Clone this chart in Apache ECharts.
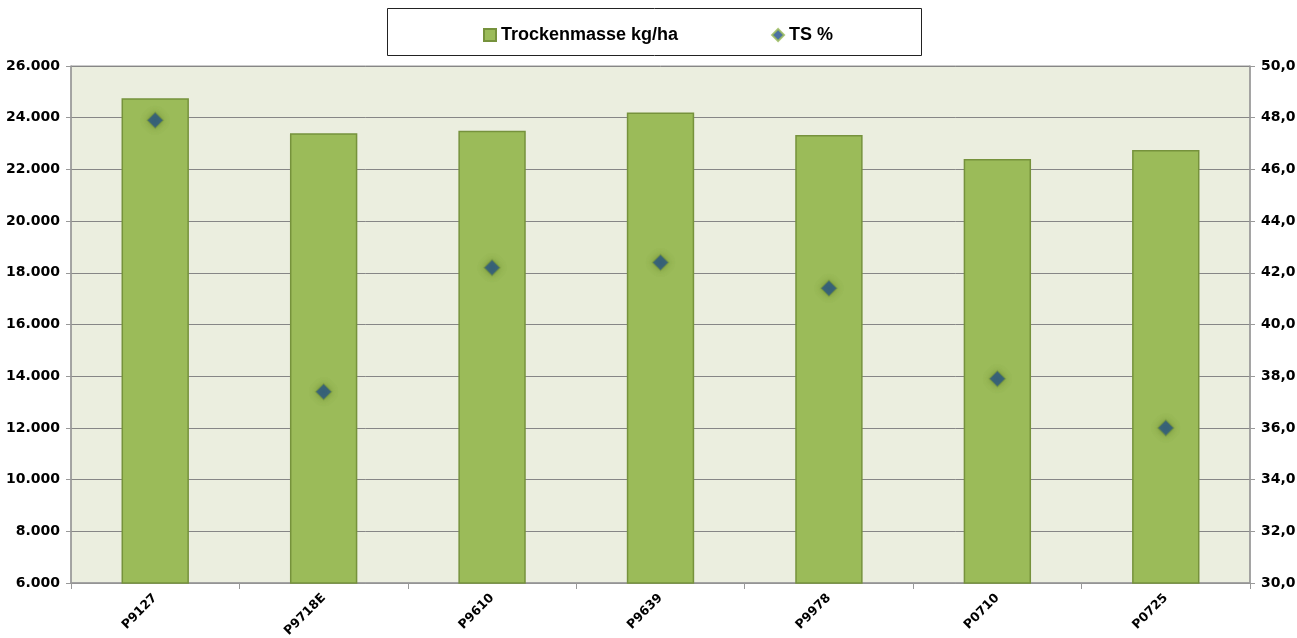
<!DOCTYPE html>
<html><head><meta charset="utf-8">
<script src="https://cdn.jsdelivr.net/npm/echarts@6/dist/echarts.min.js"></script>
<style>html,body{margin:0;padding:0;background:#fff}#c{width:1297px;height:638px}</style>
</head><body><div id="c"></div>
<script>
const categories = ['P9127','P9718E','P9610','P9639','P9978','P0710','P0725'];
const trockenmasse = [24750, 23400, 23500, 24200, 23330, 22400, 22750];
const tsPercent = [47.9, 37.4, 42.2, 42.4, 41.4, 37.9, 36.0];
const leftTicks = {min: 6000, max: 26000, interval: 2000};
const rightTicks = {min: 30, max: 50, interval: 2};

const fmtThousands = v => String(Math.round(v)).replace(/\B(?=(\d{3})+(?!\d))/g, '.');
const fmtDec = v => v.toFixed(1).replace('.', ',');
const font = 'Liberation Sans, Arial, sans-serif';
const axFont = 'DejaVu Sans, sans-serif';

const chart = echarts.init(document.getElementById('c'));
chart.setOption({
  animation: false,
  textStyle: {fontFamily: font},
  graphic: [{type: 'rect', left: 387, top: 8, shape: {width: 534, height: 47},
    style: {fill: '#fff', stroke: '#222', lineWidth: 1}, z: 0}],
  legend: {
    left: 478, top: 21, itemGap: 93, itemWidth: 12, itemHeight: 12,
    textStyle: {fontFamily: font, fontWeight: 'bold', fontSize: 18, color: '#000'},
    data: [
      {name: 'Trockenmasse kg/ha', icon: 'rect'},
      {name: 'TS %', icon: 'diamond', itemStyle: {color: '#1F4E8C', borderColor: '#9BBB59', borderWidth: 2}}
    ]
  },
  grid: {left: 71, right: 47, top: 66, bottom: 55, containLabel: false, outerBoundsMode: 'none',
    show: true, backgroundColor: '#EBEEDF', borderColor: '#999', borderWidth: 1},
  xAxis: {
    type: 'category', data: categories,
    axisLine: {lineStyle: {color: '#999', width: 1.5}},
    axisTick: {show: true, length: 6, lineStyle: {color: '#999'}},
    axisLabel: {rotate: 45, fontFamily: axFont, fontWeight: 'bold', fontSize: 12.5, color: '#000', margin: 13}
  },
  yAxis: [{
    type: 'value', min: leftTicks.min, max: leftTicks.max, interval: leftTicks.interval, position: 'left',
    axisLine: {show: true, lineStyle: {color: '#999', width: 1.5}},
    axisTick: {show: true, length: 5, lineStyle: {color: '#999'}},
    splitLine: {lineStyle: {color: '#868686', width: 1}},
    axisLabel: {formatter: fmtThousands, fontFamily: axFont, fontWeight: 'bold', fontSize: 14, color: '#000', margin: 11}
  }, {
    type: 'value', min: rightTicks.min, max: rightTicks.max, interval: rightTicks.interval, position: 'right',
    axisLine: {show: true, lineStyle: {color: '#999', width: 1.5}},
    axisTick: {show: true, length: 5, lineStyle: {color: '#999'}},
    splitLine: {show: false},
    axisLabel: {formatter: fmtDec, fontFamily: axFont, fontWeight: 'bold', fontSize: 14, color: '#000', margin: 11}
  }],
  series: [{
    name: 'Trockenmasse kg/ha', type: 'bar', data: trockenmasse, barWidth: '40%', yAxisIndex: 0,
    itemStyle: {color: '#9BBB59', borderColor: '#76923C', borderWidth: 1.5}
  }, {
    name: 'TS %', type: 'scatter', data: tsPercent, yAxisIndex: 1, symbol: 'diamond', symbolSize: 16,
    itemStyle: {color: '#1F4E8C', borderColor: 'rgba(120,150,60,0.6)', borderWidth: 1.5, shadowBlur: 6, shadowColor: 'rgba(110,140,50,0.9)'},
    z: 5
  }]
});
</script></body></html>
